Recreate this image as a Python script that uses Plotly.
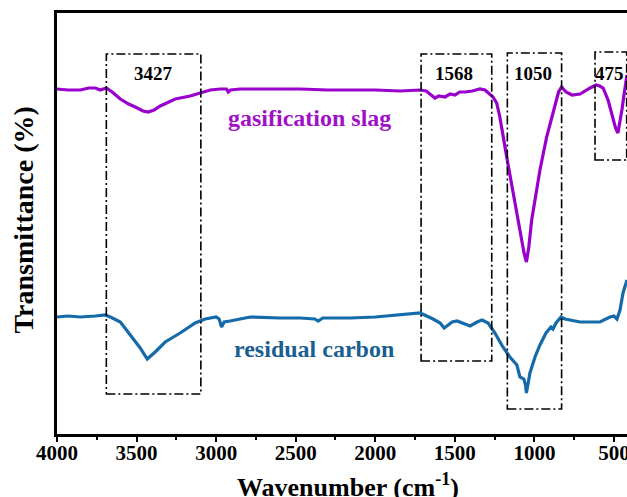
import plotly.graph_objects as go

# ---------------- data ----------------
wn_slag = [4000, 3930, 3854, 3800, 3759, 3728, 3690, 3653, 3602, 3550, 3508, 3460, 3427, 3390,
           3351, 3300, 3257, 3163, 3100, 3037, 2974, 2935, 2924, 2910, 2849, 2700, 2472, 2300,
           2158, 2000, 1844, 1718, 1680, 1650, 1625, 1600, 1562, 1530, 1499, 1470, 1436, 1390,
           1342, 1310, 1280, 1260, 1237, 1217, 1174, 1134, 1091, 1065, 1050, 1035, 1017, 965,
           923, 870, 848, 829, 815, 801, 763, 713, 650, 612, 590, 568, 537, 505, 490, 475, 462,
           450, 437, 418]
t_slag = [346, 345, 345, 347, 347, 345, 347, 343, 336, 331, 328, 324, 323, 325,
          329, 333, 336, 339, 342, 345, 346, 346, 343, 345, 346, 346, 346, 345,
          345, 345, 344, 345, 344, 340, 337, 339, 338, 341, 340, 343, 343, 344,
          346, 345, 341, 338, 332, 318, 278, 242, 205, 182, 173, 188, 215, 265,
          298, 332, 343, 348, 345, 343, 340, 341, 347, 350, 349, 347, 335, 315, 307, 302, 312,
          325, 340, 360]

wn_carbon = [4000, 3930, 3854, 3800, 3759, 3697, 3665, 3602, 3540, 3477, 3433, 3383, 3320, 3226,
             3132, 3069, 3000, 2981, 2966, 2949, 2912, 2786, 2600, 2472, 2380, 2359, 2330, 2158,
             2000, 1844, 1718, 1637, 1592, 1567, 1542, 1517, 1486, 1448, 1404, 1360, 1329, 1291,
             1248, 1198, 1154, 1110, 1091, 1066, 1056, 1050, 1040, 1028, 996, 965, 927, 896, 883,
             864, 833, 808, 713, 588, 525, 500, 481, 462, 443, 418]
t_carbon = [118, 119, 118, 119, 119, 120, 118, 113, 100, 87, 76, 83, 93, 102,
            112, 116, 118, 116, 108, 113, 114, 118, 117, 117, 116, 114, 117, 117,
            118, 120, 122, 116, 112, 107, 110, 113, 114, 112, 109, 113, 115, 112,
            102, 88, 78, 70, 58, 56, 50, 42, 53, 62, 78, 90, 102, 108, 106,
            112, 118, 116, 113, 113, 118, 119, 116, 125, 142, 155]

series_names = ["gasification slag", "residual carbon"]

tick_values = [4000, 3500, 3000, 2500, 2000, 1500, 1000, 500]
tick_labels = ["4000", "3500", "3000", "2500", "2000", "1500", "1000", "500"]

peak_labels = ["3427", "1568", "1050", "475"]
# box extents: (wn_left, wn_right, t_bottom, t_top)
box_wn_left = [3690, 1712, 1170, 619]
box_wn_right = [3096, 1268, 829, 420]
box_t_bottom = [41, 74, 26, 275]
box_t_top = [381, 381, 382, 383]
label_wn = [3395, 1503, 1010, 526]
label_t = [362, 362, 362, 362]

# ---------------- style ----------------
FONT = "Liberation Serif, Times New Roman, serif"
C_SLAG = "#9900CC"
C_SLAG_TXT = "#A010C8"
C_CARB = "#156BAA"
C_CARB_TXT = "#1B5E91"

fig = go.Figure()
fig.add_trace(go.Scatter(x=wn_slag, y=t_slag, mode="lines", name=series_names[0],
                         line=dict(color=C_SLAG, width=3.2)))
fig.add_trace(go.Scatter(x=wn_carbon, y=t_carbon, mode="lines", name=series_names[1],
                         line=dict(color=C_CARB, width=3.2)))

for i in range(len(peak_labels)):
    fig.add_shape(type="rect", xref="x", yref="y",
                  x0=box_wn_left[i], x1=box_wn_right[i], y0=box_t_bottom[i], y1=box_t_top[i],
                  line=dict(color="black", width=1.6, dash="9px,3px,2px,3px"),
                  fillcolor="rgba(0,0,0,0)", layer="above")
    fig.add_annotation(x=label_wn[i], y=label_t[i], xref="x", yref="y",
                       text="<b>%s</b>" % peak_labels[i], showarrow=False,
                       font=dict(family=FONT, size=19, color="black"))

fig.add_annotation(x=2416, y=317, xref="x", yref="y", text="<b>gasification slag</b>",
                   showarrow=False, font=dict(family=FONT, size=24, color=C_SLAG_TXT))
fig.add_annotation(x=2384, y=86, xref="x", yref="y", text="<b>residual carbon</b>",
                   showarrow=False, font=dict(family=FONT, size=24, color=C_CARB_TXT))

# axis titles
fig.add_annotation(x=0.5, y=0, xref="paper", yref="paper", xanchor="center", yanchor="top",
                   yshift=-33, xshift=6, text="<b>Wavenumber (cm<sup>-1</sup>)</b>", showarrow=False,
                   font=dict(family=FONT, size=26, color="black"))
fig.add_annotation(x=0, y=0.5, xref="paper", yref="paper", xanchor="center", yanchor="middle",
                   xshift=-34, yshift=3, textangle=-90, text="<b>Transmittance (%)</b>", showarrow=False,
                   font=dict(family=FONT, size=28, color="black"))

fig.update_layout(
    width=627, height=497,
    margin=dict(l=57, r=0, t=13, b=63, autoexpand=False),
    paper_bgcolor="white", plot_bgcolor="white",
    showlegend=False,
    xaxis=dict(range=[4000, 418], showgrid=False, zeroline=False, automargin=False,
               showline=True, linecolor="black", linewidth=2.5, mirror=True,
               ticks="outside", ticklen=5, tickwidth=2, tickcolor="black",
               tickvals=tick_values, ticktext=["<b>%s</b>" % t for t in tick_labels],
               tickfont=dict(family=FONT, size=21, color="black"),
               ticklabeloverflow="allow", ticklabelstandoff=-7,
               minor=dict(tickvals=[3750, 3250, 2750, 2250, 1750, 1250, 750],
                          ticks="outside", ticklen=3, tickwidth=2, tickcolor="black")),
    yaxis=dict(range=[1, 422], showgrid=False, zeroline=False, showticklabels=False, automargin=False,
               showline=True, linecolor="black", linewidth=2.5, mirror=False, ticks=""),
)

fig.write_html("out.html", config={"displayModeBar": False},
               post_script="document.body.style.margin='0';document.body.style.overflow='hidden';")
